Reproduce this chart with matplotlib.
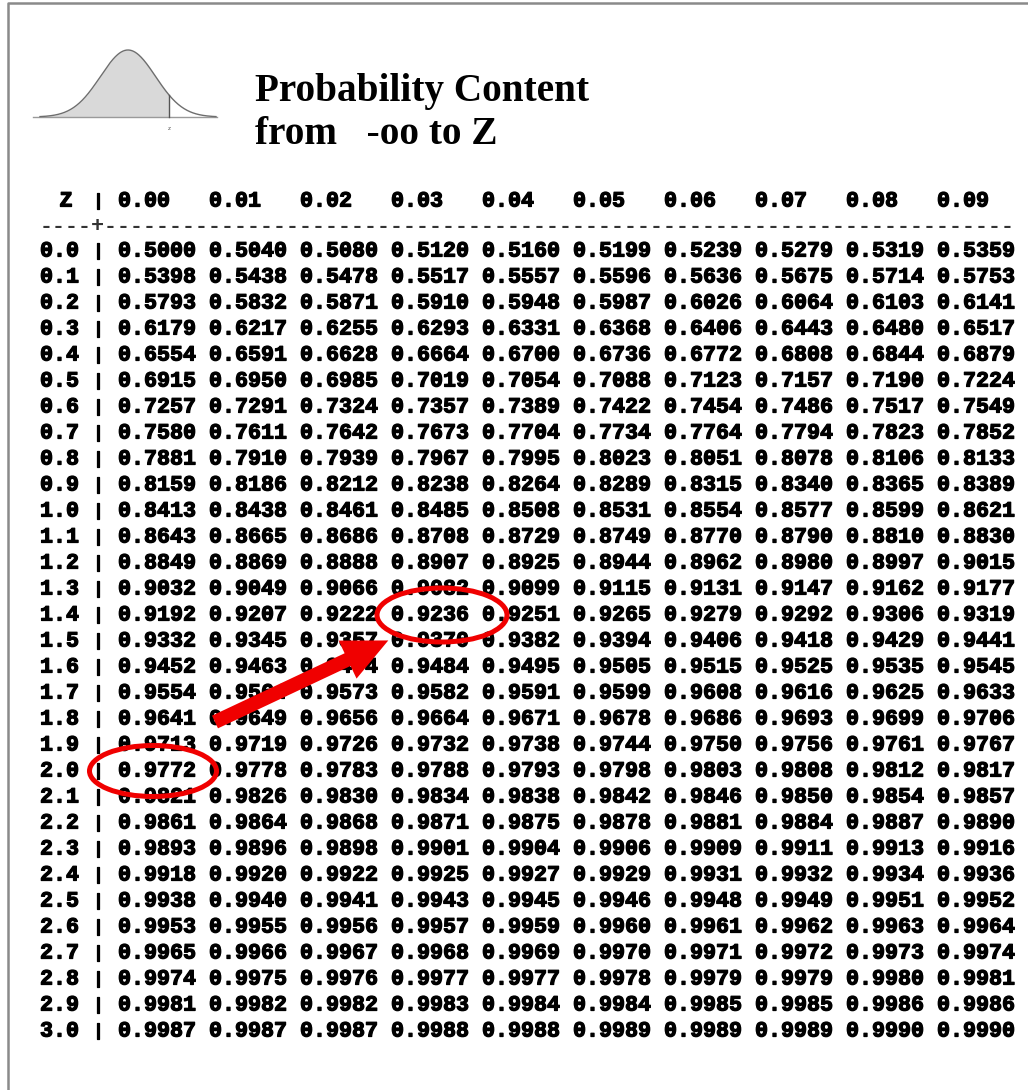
import numpy as np
import matplotlib
matplotlib.use("Agg")
import matplotlib.pyplot as plt
import matplotlib.patheffects as pe
from matplotlib.patches import Ellipse, FancyArrow

# Tabla normal estandar: P(-oo < X < Z)
z_filas = ["0.0", "0.1", "0.2", "0.3", "0.4", "0.5", "0.6", "0.7", "0.8", "0.9",
           "1.0", "1.1", "1.2", "1.3", "1.4", "1.5", "1.6", "1.7", "1.8", "1.9",
           "2.0", "2.1", "2.2", "2.3", "2.4", "2.5", "2.6", "2.7", "2.8", "2.9",
           "3.0"]
columnas = ["0.00", "0.01", "0.02", "0.03", "0.04", "0.05", "0.06", "0.07", "0.08", "0.09"]

valores = [
    [0.5000, 0.5040, 0.5080, 0.5120, 0.5160, 0.5199, 0.5239, 0.5279, 0.5319, 0.5359],
    [0.5398, 0.5438, 0.5478, 0.5517, 0.5557, 0.5596, 0.5636, 0.5675, 0.5714, 0.5753],
    [0.5793, 0.5832, 0.5871, 0.5910, 0.5948, 0.5987, 0.6026, 0.6064, 0.6103, 0.6141],
    [0.6179, 0.6217, 0.6255, 0.6293, 0.6331, 0.6368, 0.6406, 0.6443, 0.6480, 0.6517],
    [0.6554, 0.6591, 0.6628, 0.6664, 0.6700, 0.6736, 0.6772, 0.6808, 0.6844, 0.6879],
    [0.6915, 0.6950, 0.6985, 0.7019, 0.7054, 0.7088, 0.7123, 0.7157, 0.7190, 0.7224],
    [0.7257, 0.7291, 0.7324, 0.7357, 0.7389, 0.7422, 0.7454, 0.7486, 0.7517, 0.7549],
    [0.7580, 0.7611, 0.7642, 0.7673, 0.7704, 0.7734, 0.7764, 0.7794, 0.7823, 0.7852],
    [0.7881, 0.7910, 0.7939, 0.7967, 0.7995, 0.8023, 0.8051, 0.8078, 0.8106, 0.8133],
    [0.8159, 0.8186, 0.8212, 0.8238, 0.8264, 0.8289, 0.8315, 0.8340, 0.8365, 0.8389],
    [0.8413, 0.8438, 0.8461, 0.8485, 0.8508, 0.8531, 0.8554, 0.8577, 0.8599, 0.8621],
    [0.8643, 0.8665, 0.8686, 0.8708, 0.8729, 0.8749, 0.8770, 0.8790, 0.8810, 0.8830],
    [0.8849, 0.8869, 0.8888, 0.8907, 0.8925, 0.8944, 0.8962, 0.8980, 0.8997, 0.9015],
    [0.9032, 0.9049, 0.9066, 0.9082, 0.9099, 0.9115, 0.9131, 0.9147, 0.9162, 0.9177],
    [0.9192, 0.9207, 0.9222, 0.9236, 0.9251, 0.9265, 0.9279, 0.9292, 0.9306, 0.9319],
    [0.9332, 0.9345, 0.9357, 0.9370, 0.9382, 0.9394, 0.9406, 0.9418, 0.9429, 0.9441],
    [0.9452, 0.9463, 0.9474, 0.9484, 0.9495, 0.9505, 0.9515, 0.9525, 0.9535, 0.9545],
    [0.9554, 0.9564, 0.9573, 0.9582, 0.9591, 0.9599, 0.9608, 0.9616, 0.9625, 0.9633],
    [0.9641, 0.9649, 0.9656, 0.9664, 0.9671, 0.9678, 0.9686, 0.9693, 0.9699, 0.9706],
    [0.9713, 0.9719, 0.9726, 0.9732, 0.9738, 0.9744, 0.9750, 0.9756, 0.9761, 0.9767],
    [0.9772, 0.9778, 0.9783, 0.9788, 0.9793, 0.9798, 0.9803, 0.9808, 0.9812, 0.9817],
    [0.9821, 0.9826, 0.9830, 0.9834, 0.9838, 0.9842, 0.9846, 0.9850, 0.9854, 0.9857],
    [0.9861, 0.9864, 0.9868, 0.9871, 0.9875, 0.9878, 0.9881, 0.9884, 0.9887, 0.9890],
    [0.9893, 0.9896, 0.9898, 0.9901, 0.9904, 0.9906, 0.9909, 0.9911, 0.9913, 0.9916],
    [0.9918, 0.9920, 0.9922, 0.9925, 0.9927, 0.9929, 0.9931, 0.9932, 0.9934, 0.9936],
    [0.9938, 0.9940, 0.9941, 0.9943, 0.9945, 0.9946, 0.9948, 0.9949, 0.9951, 0.9952],
    [0.9953, 0.9955, 0.9956, 0.9957, 0.9959, 0.9960, 0.9961, 0.9962, 0.9963, 0.9964],
    [0.9965, 0.9966, 0.9967, 0.9968, 0.9969, 0.9970, 0.9971, 0.9972, 0.9973, 0.9974],
    [0.9974, 0.9975, 0.9976, 0.9977, 0.9977, 0.9978, 0.9979, 0.9979, 0.9980, 0.9981],
    [0.9981, 0.9982, 0.9982, 0.9983, 0.9984, 0.9984, 0.9985, 0.9985, 0.9986, 0.9986],
    [0.9987, 0.9987, 0.9987, 0.9988, 0.9988, 0.9989, 0.9989, 0.9989, 0.9990, 0.9990],
]

# celdas marcadas (fila, columna)
marca_origen = (20, 0)   # 2.0 -> 0.9772
marca_destino = (14, 3)  # 1.4 + 0.03 -> 0.9236

fig = plt.figure(figsize=(10.28, 10.90), dpi=100)
ax = fig.add_axes([0, 0, 1, 1])
ax.set_xlim(0, 1028)
ax.set_ylim(1090, 0)
ax.axis('off')

# marco
ax.plot([8, 8, 1028], [1090, 3, 3], color='#8a8a8a', lw=1.8, solid_capstyle='butt')

# campana decorativa
xs = np.linspace(40, 216, 300)
base = 117
ys = base - 67 * np.exp(-((xs - 128) ** 2) / (2 * 27.5 ** 2))
ax.plot([33, 217], [base, base], color='#9a9a9a', lw=1)
m = xs <= 169
ax.fill_between(xs[m], ys[m], base, color='#d9d9d9', lw=0)
ax.plot(xs, ys, color='#6e6e6e', lw=1)
ax.plot([169, 169], [base, base - 67 * np.exp(-(41 ** 2) / (2 * 27.5 ** 2))], color='#555555', lw=1)
ax.text(169, 128, 'z', fontsize=4, ha='center', va='center', color='#555555')

# titulo
ax.text(255, 91, 'Probability Content', fontsize=28.3, fontweight='bold',
        family='Liberation Serif', va='center', ha='left')
ax.text(255, 134, 'from   -oo to Z', fontsize=28.3, fontweight='bold',
        family='Liberation Serif', va='center', ha='left')

grueso = [pe.withStroke(linewidth=0.9, foreground='black')]
mono = dict(family='Liberation Mono', fontweight='bold', fontsize=15.6, va='center',
            path_effects=grueso)
barra = dict(mono, fontsize=12.5)
x0 = 118
paso_col = 91
y0 = 251
paso_fila = 26

# encabezado
ax.text(66, 201, 'Z', ha='center', **mono)
ax.text(98, 201, '|', ha='center', **barra)
for j, c in enumerate(columnas):
    ax.text(x0 + paso_col * j, 201, c, ha='left', **mono)
ax.text(40, 227, '----+' + '-' * 70, ha='left', color='#333333',
        family='Liberation Mono', fontweight='bold', fontsize=15.6, va='center')

for i, z in enumerate(z_filas):
    y = y0 + paso_fila * i
    ax.text(40, y, z, ha='left', **mono)
    ax.text(98, y, '|', ha='center', **barra)
    for j, v in enumerate(valores[i]):
        ax.text(x0 + paso_col * j, y, '%.4f' % v, ha='left', **mono)

# marcas rojas
rojo = '#f00000'
r, c = marca_origen
ax.add_patch(Ellipse((x0 + paso_col * c + 35, y0 + paso_fila * r), 127, 51,
                     fill=False, ec=rojo, lw=3.6, zorder=5))
r, c = marca_destino
ax.add_patch(Ellipse((x0 + paso_col * c + 51, y0 + paso_fila * r), 130, 54,
                     fill=False, ec=rojo, lw=3.6, zorder=5))
ax.add_patch(FancyArrow(215, 722, 170 * 0.78, -80 * 0.78, width=14, head_width=42,
                        head_length=45, length_includes_head=False, color=rojo,
                        lw=0, zorder=6))

fig.savefig('out.png', dpi=100)
